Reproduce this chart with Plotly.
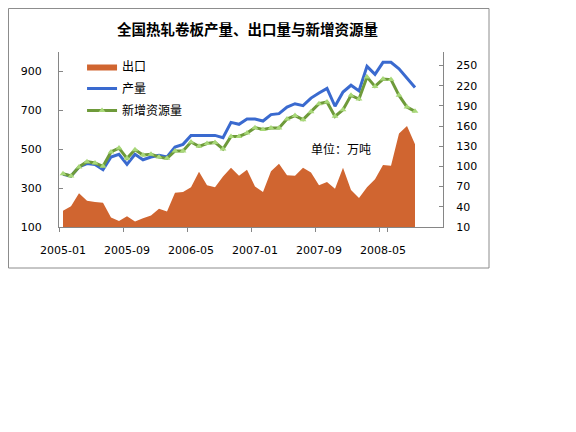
import plotly.graph_objects as go

# categories: monthly, axis runs to the end of 2008
months = [f'{y}-{m:02d}' for y in range(2005, 2009) for m in range(1, 13)]
tick_labels = ['2005-01', '2005-09', '2006-05', '2007-01', '2007-09', '2008-05']

# 产量 (left axis, 万吨)
output = [371, 362, 409, 426, 421, 395, 460, 474, 422, 474,
          446, 460, 469, 460, 511, 525, 571, 571, 571, 571,
          559, 638, 628, 655, 655, 645, 678, 683, 717, 734,
          724, 763, 789, 813, 721, 794, 829, 800, 926, 885,
          947, 947, 914, 866, 817]

# 新增资源量 (left axis, 万吨)
resources = [374, 362, 409, 436, 429, 412, 486, 506, 453, 497,
             470, 474, 460, 453, 491, 491, 537, 515, 529, 535,
             501, 566, 566, 583, 611, 602, 609, 609, 655, 673,
             652, 693, 734, 743, 669, 703, 777, 758, 871, 823,
             861, 858, 777, 717, 695]

# 出口 (right axis, 万吨)
exports = [34, 41, 60, 49, 47, 46, 24, 19, 26, 18,
           23, 27, 37, 33, 61, 62, 69, 92, 72, 69,
           85, 98, 86, 95, 70, 62, 93, 104, 87, 86,
           98, 91, 72, 77, 67, 98, 65, 53, 69, 81,
           102, 101, 149, 160, 133]

x = months[:len(output)]

axis_grey = '#868686'
tick_font = dict(family='DejaVu Sans', size=11, color='black')
cjk = 'Noto Sans CJK SC'

fig = go.Figure()
fig.add_trace(go.Scatter(
    x=x, y=exports, name='出口', yaxis='y2',
    mode='lines', fill='tozeroy',
    line=dict(color='#D06530', width=0),
    fillcolor='#D06530',
    legendgroup='a',
))
fig.add_trace(go.Scatter(
    x=x, y=output, name='产量',
    mode='lines', line=dict(color='#3A6ACF', width=3),
    legendgroup='b',
))
fig.add_trace(go.Scatter(
    x=x, y=resources, name='新增资源量',
    mode='lines+markers',
    line=dict(color='#6E9A3A', width=3),
    marker=dict(symbol='triangle-up', size=6, color='#A8D878',
                line=dict(color='#A8D878', width=0)),
    legendgroup='c',
))

# page body adds ~8px offset, so the figure is laid out 8px up/left
fig.update_layout(
    width=576, height=432,
    margin=dict(l=51, r=141, t=44, b=213),
    paper_bgcolor='white', plot_bgcolor='white',
    font=dict(family=cjk, size=12, color='black'),
    legend=dict(
        x=0.06, y=1.0, xanchor='left', yanchor='top',
        bgcolor='rgba(0,0,0,0)', font=dict(family=cjk, size=12),
        traceorder='grouped', tracegroupgap=3,
    ),
    xaxis=dict(
        type='category', categoryorder='array', categoryarray=months,
        range=[-0.5, len(months) - 0.5],
        tickvals=tick_labels, ticktext=tick_labels, tickangle=0,
        showline=True, linecolor=axis_grey, linewidth=1,
        ticks='outside', ticklen=4, tickcolor=axis_grey, tickson='boundaries',
        showgrid=False, zeroline=False, automargin=False,
        tickfont=tick_font, ticklabelstandoff=13,
    ),
    yaxis=dict(
        range=[100, 1000], tickvals=[100, 300, 500, 700, 900],
        showline=True, linecolor=axis_grey, linewidth=1,
        ticks='inside', ticklen=4, tickcolor=axis_grey,
        showgrid=False, zeroline=False, automargin=False,
        tickfont=tick_font, ticklabelstandoff=14,
    ),
    yaxis2=dict(
        overlaying='y', side='right',
        range=[10, 270], tickvals=list(range(10, 251, 30)),
        showline=True, linecolor=axis_grey, linewidth=1,
        ticks='inside', ticklen=4, tickcolor=axis_grey,
        showgrid=False, zeroline=False, automargin=False,
        tickfont=tick_font, ticklabelstandoff=10,
    ),
)

# outer chart frame
fig.add_shape(type='rect', xref='paper', yref='paper',
              x0=-0.1315, x1=1.1198, y0=-0.2343, y1=1.2486,
              line=dict(color='#8C8C8C', width=1))

fig.add_annotation(
    text='<b>全国热轧卷板产量、出口量与新增资源量</b>',
    xref='paper', yref='paper', x=0.4896, y=1.137,
    xanchor='center', yanchor='middle',
    showarrow=False, font=dict(family=cjk, size=14.5, color='black'),
)
fig.add_annotation(
    text='单位：万吨', xref='paper', yref='paper', x=0.734, y=0.451,
    xanchor='center', yanchor='middle',
    showarrow=False, font=dict(family=cjk, size=12, color='black'),
)

fig.write_html('out.html')
